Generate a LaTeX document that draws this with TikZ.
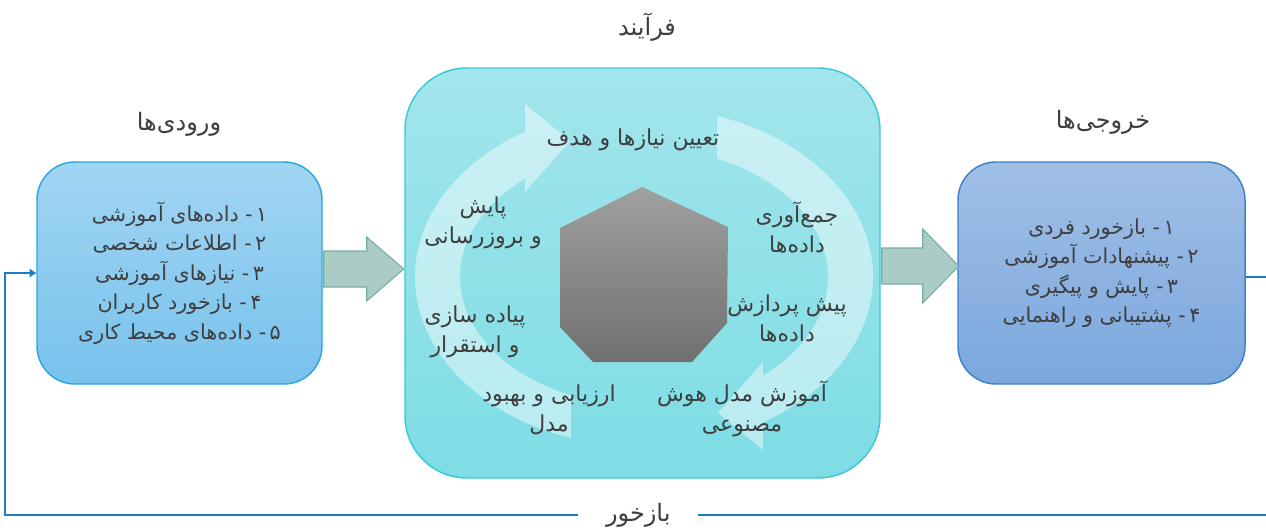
\documentclass[tikz,border=0pt]{standalone}
\usepackage{fontspec}
\newfontfamily\fa[Script=Arabic]{DejaVu Sans}
\TeXXeTstate=1
\usetikzlibrary{calc,arrows.meta}

\definecolor{ink}{RGB}{62,62,62}
\definecolor{inTop}{RGB}{161,213,243}
\definecolor{inBot}{RGB}{120,194,236}
\definecolor{inLine}{RGB}{42,167,223}
\definecolor{prTop}{RGB}{163,229,236}
\definecolor{prBot}{RGB}{125,221,229}
\definecolor{prLine}{RGB}{60,200,215}
\definecolor{outTop}{RGB}{160,191,230}
\definecolor{outBot}{RGB}{123,167,222}
\definecolor{outLine}{RGB}{60,130,200}
\definecolor{arrFill}{RGB}{171,203,197}
\definecolor{arrLine}{RGB}{118,173,166}
\definecolor{fbBlue}{RGB}{31,125,193}
\definecolor{hexTop}{RGB}{160,160,160}
\definecolor{hexBot}{RGB}{112,112,112}

\begin{document}
\begin{tikzpicture}[x=0.75pt,y=0.75pt,
  box/.style={rectangle, rounded corners=28.5pt, line width=1.1pt, align=center,
    font=\fa\fontsize{15.5}{22.1}\selectfont, text=ink, inner sep=0pt},
  heading/.style={font=\fa\fontsize{18}{20}\selectfont, text=ink, inner sep=1pt},
  stage/.style={font=\fa\fontsize{16.5}{22.5}\selectfont, text=ink, align=center, inner sep=1pt},
  blockarrow/.style={fill=arrFill, draw=arrLine, line width=0.8pt, line join=miter},
  ring/.style={fill=white, fill opacity=0.45},
  fb/.style={draw=fbBlue, line width=1.9pt},
  fblabel/.style={fill=white, inner sep=0pt, minimum width=90pt, minimum height=12pt,
    font=\fa\fontsize{18}{19}\selectfont, text=ink}
]
\useasboundingbox (0,0) rectangle (1266,-529);

% three main blocks
\node[box, minimum width=213.75pt, minimum height=166.5pt,
      top color=inTop, bottom color=inBot, draw=inLine] (inbox) at (179.5,-273)
  {\beginR ۱\,- داده‌های آموزشی\endR\\
   \beginR ۲\,- اطلاعات شخصی\endR\\
   \beginR ۳\,- نیازهای آموزشی\endR\\
   \beginR ۴\,- بازخورد کاربران\endR\\
   \beginR ۵\,- داده‌های محیط کاری\endR};

\node[box, rounded corners=46.5pt, minimum width=356.25pt, minimum height=307.5pt,
      top color=prTop, bottom color=prBot, draw=prLine] (proc) at (642.5,-273) {};

\node[box, minimum width=215.25pt, minimum height=166.5pt,
      top color=outTop, bottom color=outBot, draw=outLine] (outbox) at (1101.5,-273)
  {\beginR ۱\,- بازخورد فردی\endR\\
   \beginR ۲\,- پیشنهادات آموزشی\endR\\
   \beginR ۳\,- پایش و پیگیری\endR\\
   \beginR ۴\,- پشتیبانی و راهنمایی\endR};

% headings
\node[heading] (inhead) at (179,-124) {\beginR ورودی‌ها\endR};
\node[heading] (prhead) at (647,-27) {\beginR فرآیند\endR};
\node[heading] (outhead) at (1103,-122) {\beginR خروجی‌ها\endR};

% block arrows between the blocks
\path[blockarrow]
  ($(inbox.east)+(1,22)$) -- ($(inbox.east)+(44,22)$) -- ($(inbox.east)+(44,36)$)
  -- ($(inbox.east)+(81,4)$) -- ($(inbox.east)+(44,-28)$) -- ($(inbox.east)+(44,-14)$)
  -- ($(inbox.east)+(1,-14)$) -- cycle;
\path[blockarrow]
  ($(proc.east)+(1,25)$) -- ($(proc.east)+(42,25)$) -- ($(proc.east)+(42,44)$)
  -- ($(proc.east)+(78,7)$) -- ($(proc.east)+(42,-30)$) -- ($(proc.east)+(42,-11)$)
  -- ($(proc.east)+(1,-11)$) -- cycle;

% circular cycle arrows
\path[ring] (717,-115.9)
  arc[start angle=71.4, end angle=-58.7, x radius=229, y radius=170]
  -- (763,-450) -- (718,-413) -- (763,-362) -- (763,-375.4)
  arc[start angle=-49.7, end angle=66.6, x radius=184, y radius=129]
  -- cycle;
\path[ring] (571,-438.1)
  arc[start angle=251.4, end angle=121.3, x radius=229, y radius=170]
  -- (525,-104) -- (570,-141) -- (525,-192) -- (525,-178.6)
  arc[start angle=130.3, end angle=246.6, x radius=184, y radius=129]
  -- cycle;

% central heptagon
\shade[top color=hexTop, bottom color=hexBot]
  (642,-187) -- (728,-227) -- (727,-323) -- (692,-362) -- (593,-362)
  -- (560,-327) -- (560,-228) -- cycle;

% stages of the cycle
\node[stage] (s1) at (633,-140) {\beginR تعیین نیازها و هدف\endR};
\node[stage] (s2) at (797,-228) {\beginR جمع‌آوری\endR\\ \beginR داده‌ها\endR};
\node[stage] (s3) at (787,-318) {\beginR پیش پردازش\endR\\ \beginR داده‌ها\endR};
\node[stage] (s4) at (742,-409) {\beginR آموزش مدل هوش\endR\\ \beginR مصنوعی\endR};
\node[stage] (s5) at (549,-410) {\beginR ارزیابی و بهبود\endR\\ \beginR مدل\endR};
\node[stage] (s6) at (475,-332) {\beginR پیاده سازی\endR\\ \beginR و استقرار\endR};
\node[stage] (s7) at (483,-223) {\beginR پایش\endR\\ \beginR و بروزرسانی\endR};

% feedback loop
\coordinate (fbR) at (1300,-515);
\coordinate (fbL) at (5,-515);
\draw[fb, -{Triangle[length=5pt,width=6pt]}]
  ($(outbox.east)+(0,-4)$) -| (fbR)
  -- node[fblabel, pos=0.511] (fbtext) {\beginR بازخور\endR} (fbL)
  |- (inbox.west);
\end{tikzpicture}
\end{document}
